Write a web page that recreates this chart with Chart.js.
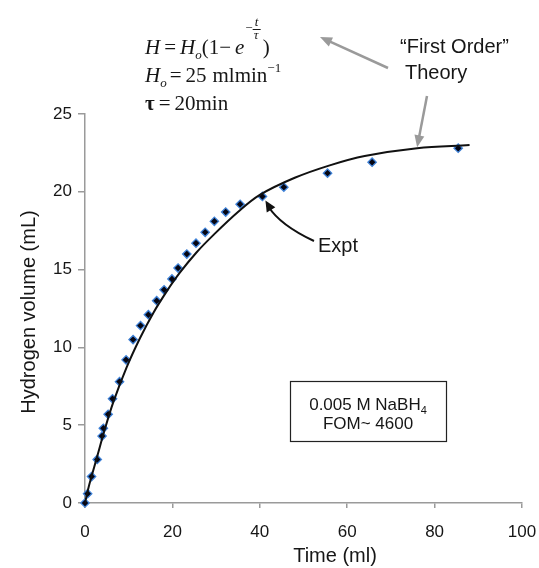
<!DOCTYPE html>
<html>
<head>
<meta charset="utf-8">
<script src="https://cdn.jsdelivr.net/npm/chart.js@4.4.1/dist/chart.umd.min.js"></script>
<style>
  html, body { margin: 0; padding: 0; background: #fff; }
  #wrap { width: 539px; height: 568px; }
</style>
</head>
<body>
<div id="wrap"><canvas id="h2Chart" width="539" height="568"></canvas></div>
<script>
// Messpunkte (Expt)
const exptTime   = [0, 0.6, 1.5, 2.8, 3.9, 4.2, 5.3, 6.3, 7.9, 9.4, 11.0, 12.7, 14.5, 16.4, 18.1, 19.9, 21.3, 23.3, 25.4, 27.5, 29.6, 32.2, 35.5, 40.6, 45.5, 55.5, 65.7, 85.4];
const exptVolume = [0, 0.6, 1.7, 2.8, 4.3, 4.8, 5.7, 6.7, 7.8, 9.2, 10.5, 11.4, 12.1, 13.0, 13.7, 14.4, 15.1, 16.0, 16.7, 17.4, 18.1, 18.7, 19.2, 19.7, 20.3, 21.2, 21.9, 22.8];

const theoryTime   = [0, 1, 2.7, 4.6, 6.5, 9.5, 12.6, 15.6, 18.7, 21.7, 25.5, 29.3, 35, 40, 48, 56, 64, 76, 88];
const theoryVolume = [0, 1.2, 2.9, 4.8, 6.5, 8.7, 10.6, 12.2, 13.6, 14.8, 16.1, 17.2, 18.7, 19.8, 20.9, 21.7, 22.3, 22.8, 23.0];

const xTicks = [0, 20, 40, 60, 80, 100];
const yTicks = [0, 5, 10, 15, 20, 25];
const xTitle = 'Time (ml)';
const yTitle = 'Hydrogen volume (mL)';
const boxLines = ['0.005 M NaBH', 'FOM~ 4600'];

const SANS = '"Liberation Sans", Arial, sans-serif';
const SERIF = '"Liberation Serif", "Times New Roman", serif';
const TEXT = '#161616';
const GRAY = '#9a9a9a';

// Hilfsfunktionen zum Zeichnen
function arrowHead(ctx, x, y, angle, len, half, color) {
    ctx.save();
    ctx.translate(x, y);
    ctx.rotate(angle);
    ctx.fillStyle = color;
    ctx.beginPath();
    ctx.moveTo(0, 0);
    ctx.lineTo(-len, -half);
    ctx.lineTo(-len, half);
    ctx.closePath();
    ctx.fill();
    ctx.restore();
}

function straightArrow(ctx, x1, y1, x2, y2, color) {
    const a = Math.atan2(y2 - y1, x2 - x1);
    ctx.save();
    ctx.strokeStyle = color;
    ctx.lineWidth = 2.5;
    ctx.beginPath();
    ctx.moveTo(x1, y1);
    ctx.lineTo(x2 - Math.cos(a) * 8, y2 - Math.sin(a) * 8);
    ctx.stroke();
    ctx.restore();
    arrowHead(ctx, x2, y2, a, 12, 5, color);
}

// Text in Stuecken nebeneinander setzen
function runs(ctx, x, y, parts) {
    parts.forEach(p => {
        ctx.font = p.font;
        x += p.pre || 0;
        ctx.fillText(p.text, x, y + (p.dy || 0));
        x += ctx.measureText(p.text).width + (p.post || 0);
    });
    return x;
}

const annotations = {
    id: 'annotations',
    afterDraw(chart) {
        const { ctx } = chart;
        const xs = chart.scales.x, ys = chart.scales.y;
        ctx.save();
        ctx.fillStyle = TEXT;
        ctx.textBaseline = 'alphabetic';
        ctx.textAlign = 'left';

        // Achsentitel
        ctx.font = '20px ' + SANS;
        ctx.textAlign = 'center';
        ctx.fillText(xTitle, 335, 562);
        ctx.save();
        ctx.translate(35, 312);
        ctx.rotate(-Math.PI / 2);
        ctx.fillText(yTitle, 0, 0);
        ctx.restore();
        ctx.textAlign = 'left';

        // Formel
        const it = 'italic 21px ' + SERIF, rm = '21px ' + SERIF;
        const itS = 'italic 13px ' + SERIF, rmS = '13px ' + SERIF;
        let x = runs(ctx, 145, 54, [
            { text: 'H', font: it },
            { text: '=', font: rm, pre: 4, post: 4 },
            { text: 'H', font: it },
            { text: 'o', font: itS, dy: 5 },
            { text: '(1\u2212', font: rm, post: 4 },
            { text: 'e', font: it, post: 1 },
            { text: '\u2212', font: rmS, dy: -22 }
        ]);
        ctx.font = itS;
        ctx.fillText('t', x + 2, 26);
        ctx.fillText('\u03c4', x + 1, 39);
        ctx.fillRect(x, 29, 8, 1);
        runs(ctx, x + 10, 54, [{ text: ')', font: rm }]);

        runs(ctx, 145, 82, [
            { text: 'H', font: it },
            { text: 'o', font: itS, dy: 5 },
            { text: '=', font: rm, pre: 3, post: 4 },
            { text: '25', font: rm, post: 6 },
            { text: 'mlmin', font: rm },
            { text: '\u22121', font: rmS, dy: -10 }
        ]);
        runs(ctx, 145, 110, [
            { text: '\u03c4', font: 'bold 21px ' + SERIF, post: 4 },
            { text: '=', font: rm, post: 4 },
            { text: '20min', font: rm }
        ]);

        // Beschriftungen
        ctx.font = '20px ' + SANS;
        ctx.fillText('\u201cFirst Order\u201d', 400, 53);
        ctx.fillText('Theory', 405, 79);
        ctx.fillText('Expt', 318, 252);

        // graue Pfeile
        straightArrow(ctx, 388, 68, 320, 37, GRAY);
        straightArrow(ctx, 427, 96, xs.getPixelForValue(76), ys.getPixelForValue(22.8) - 1, GRAY);

        // schwarzer Pfeil zum Messpunkt
        const tx = xs.getPixelForValue(40.6) + 3, ty = ys.getPixelForValue(19.7) + 4;
        const cx = 280, cy = 225;
        ctx.strokeStyle = '#111';
        ctx.lineWidth = 2;
        ctx.beginPath();
        ctx.moveTo(314, 241);
        ctx.quadraticCurveTo(cx, cy, tx + 3, ty + 6);
        ctx.stroke();
        arrowHead(ctx, tx, ty, Math.atan2(ty - cy, tx - cx), 11, 5, '#111');

        // Kasten
        ctx.strokeStyle = '#222';
        ctx.lineWidth = 1.2;
        ctx.strokeRect(290.5, 381.5, 156, 60);
        ctx.font = '17px ' + SANS;
        const w1 = ctx.measureText(boxLines[0]).width;
        ctx.font = '11px ' + SANS;
        const w4 = ctx.measureText('4').width;
        let bx = 368 - (w1 + w4) / 2;
        ctx.font = '17px ' + SANS;
        ctx.fillText(boxLines[0], bx, 410);
        ctx.font = '11px ' + SANS;
        ctx.fillText('4', bx + w1, 414);
        ctx.font = '17px ' + SANS;
        ctx.textAlign = 'center';
        ctx.fillText(boxLines[1], 368, 429);
        ctx.restore();
    }
};

const theoryData = theoryTime.map((t, i) => ({ x: t, y: theoryVolume[i] }));
const exptData = exptTime.map((t, i) => ({ x: t, y: exptVolume[i] }));

new Chart(document.getElementById('h2Chart'), {
    type: 'scatter',
    data: {
        datasets: [
            {
                label: 'Theory',
                data: theoryData,
                showLine: true,
                borderColor: '#111',
                borderWidth: 2,
                pointRadius: 0,
                tension: 0.35,
                order: 1
            },
            {
                label: 'Expt',
                data: exptData,
                pointStyle: 'rectRot',
                pointRadius: 4.2,
                backgroundColor: '#050512',
                borderColor: '#3f82d8',
                borderWidth: 1.3,
                clip: false,
                order: 2
            }
        ]
    },
    options: {
        responsive: false,
        animation: false,
        layout: { autoPadding: false, padding: { top: 114, right: 17, left: 0, bottom: 0 } },
        plugins: {
            legend: { display: false },
            tooltip: { enabled: false }
        },
        scales: {
            x: {
                type: 'linear',
                min: xTicks[0],
                max: xTicks[xTicks.length - 1],
                // feste Hoehe, keine Extra-Raender fuer die Beschriftung
                afterFit: s => { s.height = 65; s.paddingLeft = 0; s.paddingRight = 0; },
                afterBuildTicks: s => { s.ticks = xTicks.map(v => ({ value: v })); },
                ticks: { color: TEXT, font: { family: SANS, size: 17 }, padding: 14, maxRotation: 0 },
                grid: { drawOnChartArea: false, color: GRAY, lineWidth: 1.5, tickLength: 5 },
                border: { color: GRAY, width: 1.5 }
            },
            y: {
                type: 'linear',
                min: yTicks[0],
                max: yTicks[yTicks.length - 1],
                afterFit: s => { s.width = 85; s.paddingTop = 0; s.paddingBottom = 0; },
                afterBuildTicks: s => { s.ticks = yTicks.map(v => ({ value: v })); },
                ticks: { color: TEXT, font: { family: SANS, size: 17 }, padding: 6 },
                grid: { drawOnChartArea: false, color: GRAY, lineWidth: 1.5, tickLength: 7 },
                border: { color: GRAY, width: 1.5 }
            }
        }
    },
    plugins: [annotations]
});
</script>
</body>
</html>
